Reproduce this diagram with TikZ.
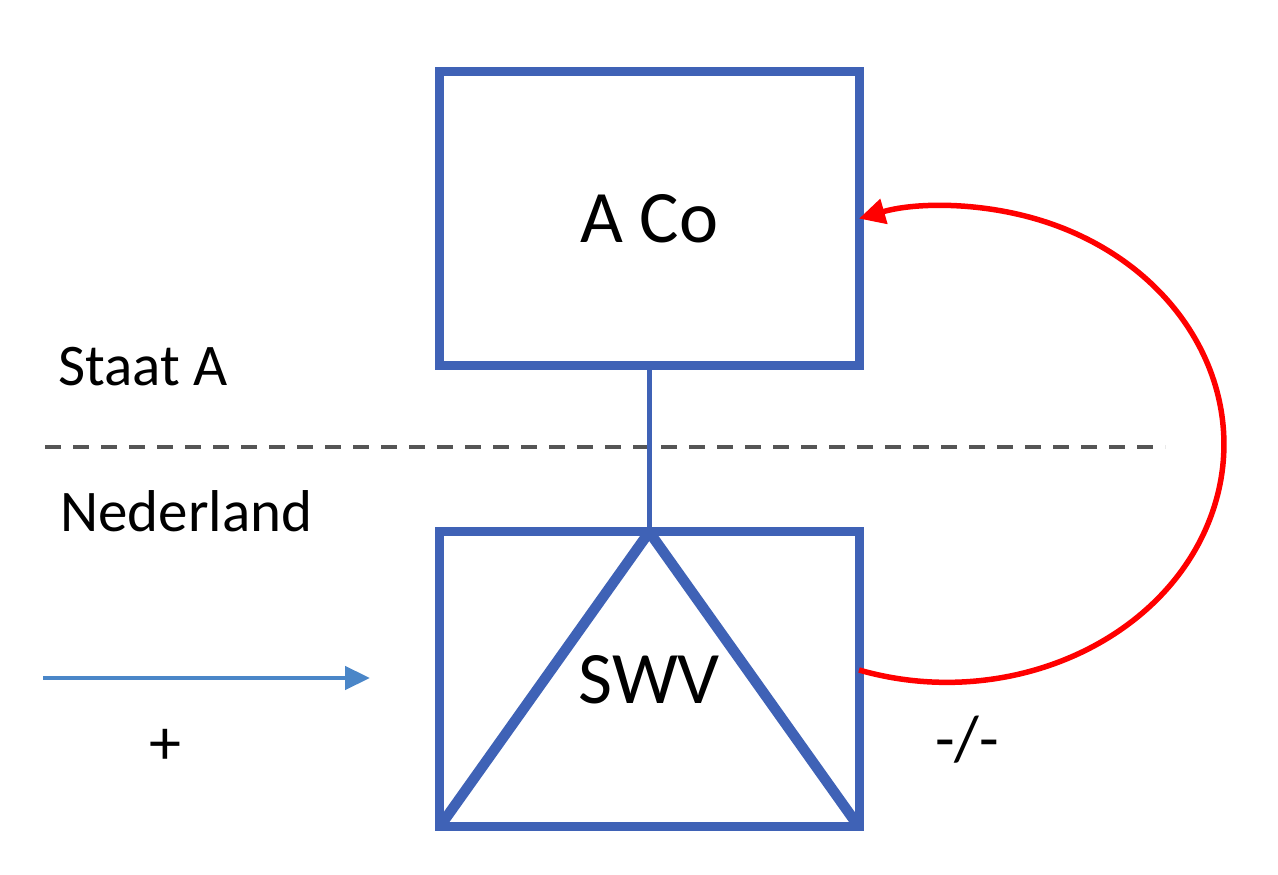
\documentclass[tikz,border=0pt]{standalone}
\usepackage{fontspec}
\setmainfont{Carlito}
\usetikzlibrary{arrows.meta}
\definecolor{boxblue}{RGB}{63,98,182}
\definecolor{arrowblue}{RGB}{74,134,200}
\definecolor{dashgray}{RGB}{85,85,85}
\definecolor{arcred}{RGB}{255,0,0}
\begin{document}
\begin{tikzpicture}[x=1pt,y=1pt,
  entity/.style={draw=boxblue, line width=9pt, minimum width=419.5pt, minimum height=294pt, inner sep=0pt, outer sep=0pt, font=\fontsize{74}{88}\selectfont},
  regionlabel/.style={anchor=base west, inner sep=0pt, font=\fontsize{59}{70}\selectfont},
  signlabel/.style={anchor=base, inner sep=0pt, font=\fontsize{64}{76}\selectfont}
]
\useasboundingbox (0,0) rectangle (1278,875);
% dashed border line
\coordinate (dl) at (45,428);
\coordinate (dr) at (1165,428);
\draw[dashgray, line width=4.5pt, dash pattern=on 16pt off 12pt] (dl) -- (dr);
% boxes
\node[entity] (aco) at (649.25,656) {A Co};
\node[entity, minimum height=295pt] (swv) at (649.25,195.5) {SWV};
\begin{scope}
  \clip (swv.south west) rectangle (swv.north east);
  \draw[boxblue, line width=10.5pt] (swv.south west) -- (swv.north) -- (swv.south east);
\end{scope}
\draw[boxblue, line width=5.5pt] (aco.south) -- (swv.north);
% blue arrow
\coordinate (bs) at (43,197);
\coordinate (be) at (370,197);
\draw[arrowblue, line width=4.5pt, -{Triangle[length=25pt,width=23pt]}] (bs) -- (be);
% red arc
\draw[arcred, line width=5.5pt, -{Triangle[length=26pt,width=25pt]}] ([yshift=9.5pt]swv.east) arc[start angle=-108.5, end angle=108.5, x radius=277, y radius=238];
% labels
\node[regionlabel] (staat) at (58,489) {Staat A};
\node[regionlabel] (ned) at (60,343) {Nederland};
\node[signlabel] (plus) at (165,110) {+};
\node[signlabel] (minus) at (967,114) {-/-};
\end{tikzpicture}
\end{document}
